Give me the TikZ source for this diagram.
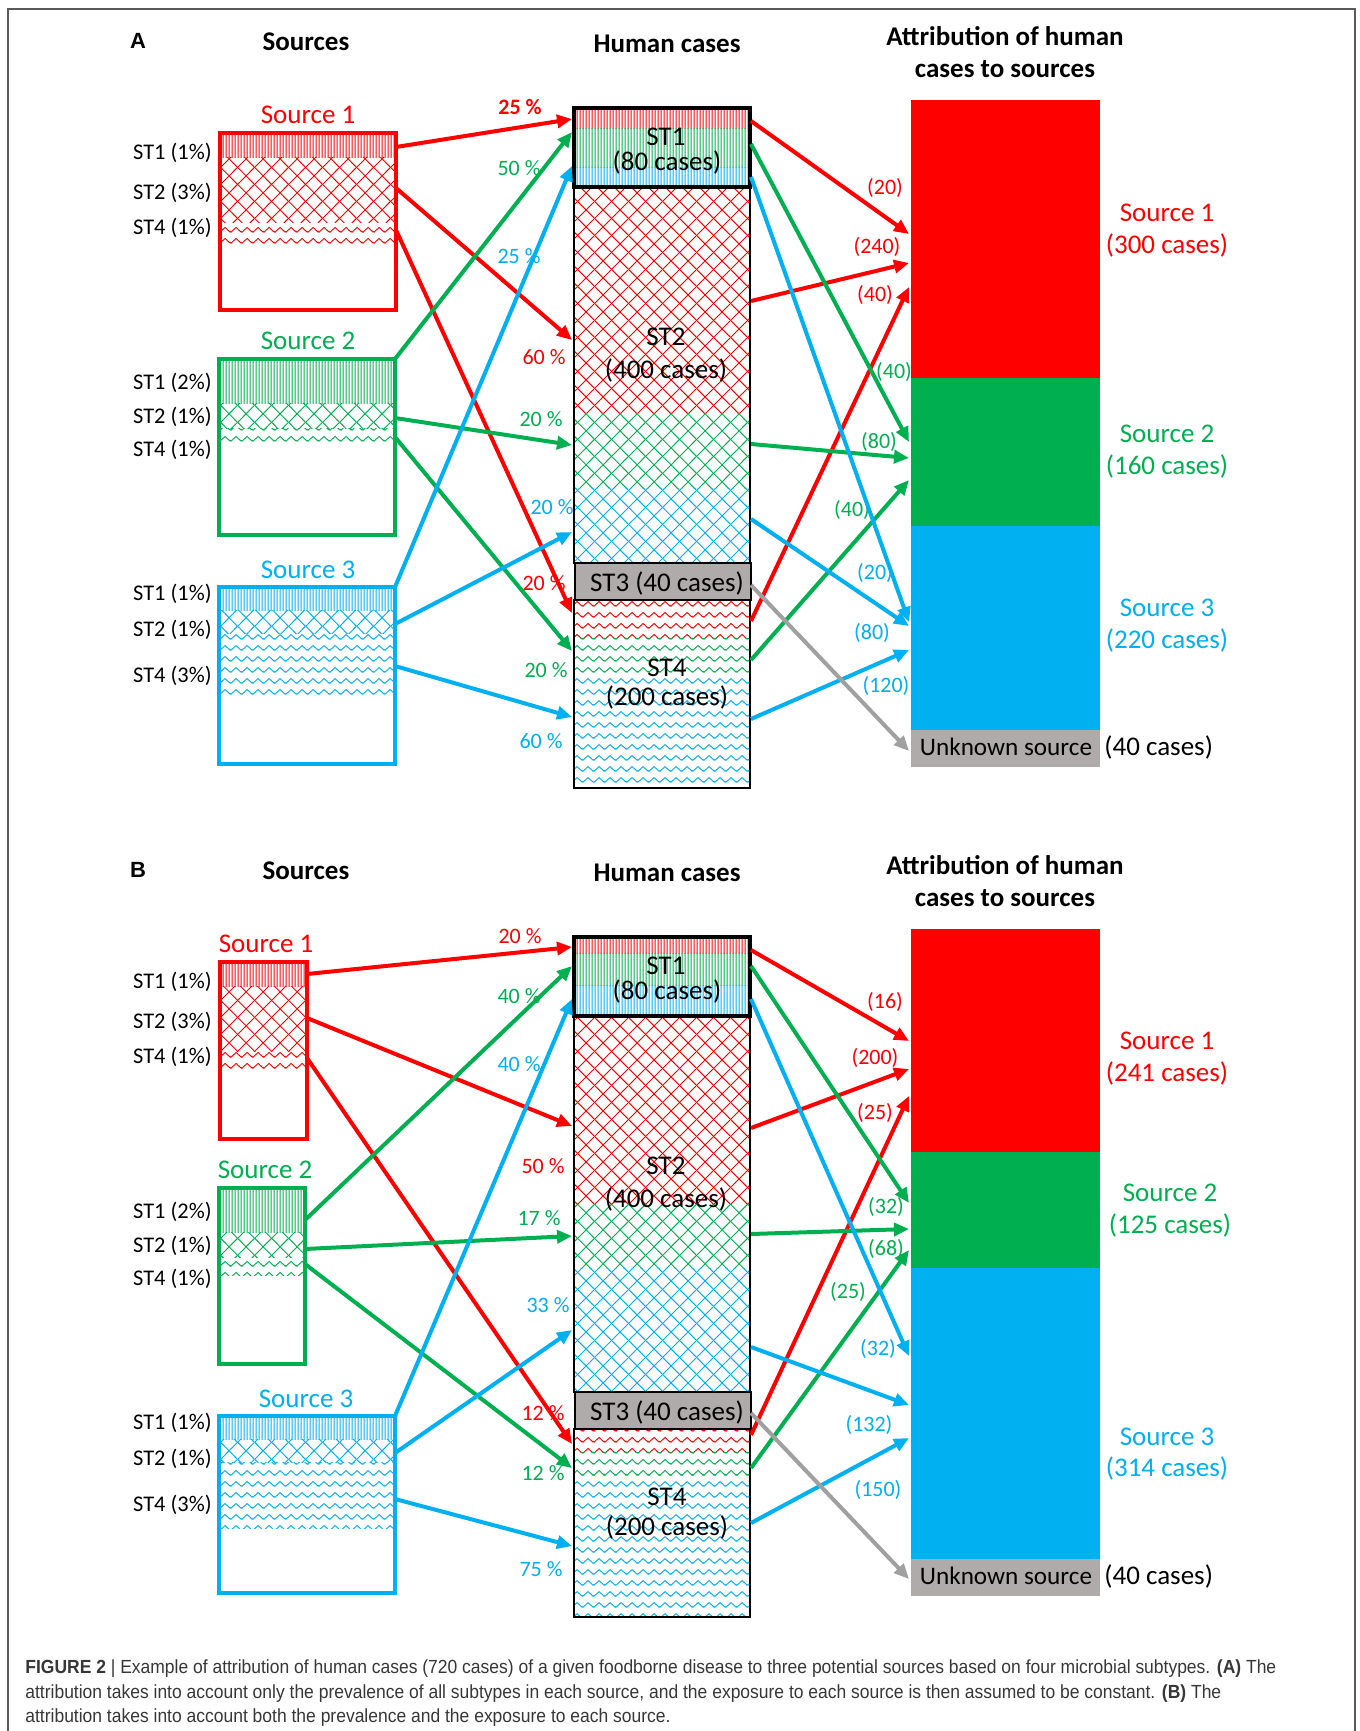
\documentclass[tikz,border=0pt]{standalone}
\usepackage{fontspec}
\setmainfont{Carlito}
\newfontfamily\capfont[FakeStretch=0.92]{Liberation Sans}
\newfontfamily\labfont{Liberation Sans}
\usetikzlibrary{arrows.meta,patterns.meta}
\definecolor{cr}{RGB}{255,0,0}
\definecolor{cg}{RGB}{0,176,80}
\definecolor{cb}{RGB}{0,176,240}
\definecolor{cgray}{RGB}{175,171,171}
\definecolor{cgarr}{RGB}{160,160,160}
\definecolor{capgray}{RGB}{55,55,55}
\definecolor{framegray}{RGB}{90,90,90}

\tikzdeclarepattern{
  name=ptvert,
  type=uncolored,
  bottom left={(0pt,0pt)},
  top right={(1.5pt,4pt)},
  tile size={(1.5pt,4pt)},
  code={\pgfsetlinewidth{0.6pt}\pgfpathmoveto{\pgfqpoint{0.75pt}{-1pt}}\pgfpathlineto{\pgfqpoint{0.75pt}{5pt}}\pgfusepath{stroke}}
}
\tikzdeclarepattern{
  name=ptcross,
  type=uncolored,
  bottom left={(0pt,0pt)},
  top right={(8.5pt,8.5pt)},
  tile size={(8.5pt,8.5pt)},
  code={\pgfsetlinewidth{0.5pt}%
    \pgfpathmoveto{\pgfqpoint{-1pt}{-1pt}}\pgfpathlineto{\pgfqpoint{9.5pt}{9.5pt}}%
    \pgfpathmoveto{\pgfqpoint{-1pt}{9.5pt}}\pgfpathlineto{\pgfqpoint{9.5pt}{-1pt}}%
    \pgfusepath{stroke}}
}
\tikzdeclarepattern{
  name=ptwave,
  type=uncolored,
  bottom left={(0pt,0pt)},
  top right={(5.5pt,5.5pt)},
  tile size={(5.5pt,5.5pt)},
  code={\pgfsetlinewidth{0.5pt}%
    \pgfpathmoveto{\pgfqpoint{-2.75pt}{4pt}}\pgfpathlineto{\pgfqpoint{0pt}{1.5pt}}%
    \pgfpathlineto{\pgfqpoint{2.75pt}{4pt}}\pgfpathlineto{\pgfqpoint{5.5pt}{1.5pt}}%
    \pgfpathlineto{\pgfqpoint{8.25pt}{4pt}}\pgfusepath{stroke}}
}

\tikzset{
  arr/.style={line width=2pt, -{Triangle[length=7.5pt,width=6.5pt]}},
  lbl/.style={font=\fontsize{11}{13}\selectfont, inner sep=0pt},
  stl/.style={font=\fontsize{11.2}{13}\selectfont, anchor=east, inner sep=0pt},
  big/.style={font=\fontsize{13.5}{16}\selectfont, inner sep=0pt},
  unk/.style={font=\fontsize{12.6}{15}\selectfont, inner sep=0pt},
  head/.style={font=\fontsize{13.5}{16}\selectfont\bfseries, inner sep=0pt, align=center},
  panlab/.style={font=\labfont\fontsize{11}{13}\selectfont\bfseries, inner sep=0pt},
  srcbox/.style={line width=2pt},
  hbord/.style={draw=black, line width=1pt},
  captxt/.style={font=\capfont\fontsize{9.5}{11}\selectfont, text=capgray, anchor=base west, inner sep=0pt},
}

\newcommand\conn[6]{%
  \coordinate (#1s) at (#3);
  \coordinate (#1e) at (#4);
  \draw[arr,#2] (#1s) -- (#1e);
  \node[lbl,text=#2] (#1l) at (#5) {#6};}

\newcommand\band[6]{\path[pattern=#1, pattern color=#2] (#3,#4) rectangle (#5,#6);}

\begin{document}
\begin{tikzpicture}[x=0.5pt,y=-0.5pt]
\useasboundingbox (0,0) rectangle (1360,1731);
\fill[white] (0,0) rectangle (1360,1731);
\draw[framegray, line width=0.8pt] (8,1735) -- (8,9) -- (1355,9) -- (1355,1735);

% ================= PANEL A =================
\node[panlab] (Alab) at (138,41) {A};
\node[head] (Asrc) at (306,42) {Sources};
\node[head] (Ahum) at (667,44) {Human cases};
\node[head] (Aatt) at (1005,52) {Attribution of human\\cases to sources};

% Source 1
\band{ptvert}{cr}{221}{135}{395}{157}
\band{ptcross}{cr}{221}{157}{395}{222}
\band{ptwave}{cr}{221}{222}{395}{244}
\draw[srcbox, cr] (220,133) rectangle (396,310);
\node[big, text=cr] (AS1n) at (308,115) {Source 1};
\node[stl] (AS1a) at (212,153) {ST1 (1\%)};
\node[stl] (AS1b) at (212,193) {ST2 (3\%)};
\node[stl] (AS1c) at (212,228) {ST4 (1\%)};
% Source 2
\band{ptvert}{cg}{220}{361}{394}{403}
\band{ptcross}{cg}{220}{403}{394}{428}
\band{ptwave}{cg}{220}{428}{394}{446}
\draw[srcbox, cg] (219,359) rectangle (395,535);
\node[big, text=cg] (AS2n) at (308,341) {Source 2};
\node[stl] (AS2a) at (212,383) {ST1 (2\%)};
\node[stl] (AS2b) at (212,417) {ST2 (1\%)};
\node[stl] (AS2c) at (212,450) {ST4 (1\%)};
% Source 3
\band{ptvert}{cb}{220}{589}{394}{610}
\band{ptcross}{cb}{220}{610}{394}{633}
\band{ptwave}{cb}{220}{633}{394}{699}
\draw[srcbox, cb] (219,587) rectangle (395,764);
\node[big, text=cb] (AS3n) at (308,570) {Source 3};
\node[stl] (AS3a) at (212,594) {ST1 (1\%)};
\node[stl] (AS3b) at (212,630) {ST2 (1\%)};
\node[stl] (AS3c) at (212,676) {ST4 (3\%)};

% Human cases column
\band{ptvert}{cr}{574}{108}{750}{128}
\band{ptvert}{cg}{574}{128}{750}{167}
\band{ptvert}{cb}{574}{167}{750}{187}
\band{ptcross}{cr}{574}{187}{750}{413}
\band{ptcross}{cg}{574}{413}{750}{488}
\band{ptcross}{cb}{574}{488}{750}{563}
\band{ptwave}{cr}{574}{600}{750}{638}
\band{ptwave}{cg}{574}{638}{750}{675}
\band{ptwave}{cb}{574}{675}{750}{788}
\draw[hbord] (574,187) rectangle (750,563);
\draw[hbord] (574,600) rectangle (750,788);
\draw[hbord, fill=cgray] (575,563) rectangle (751,600);
\draw[hbord, line width=1.6pt] (574,108) rectangle (750,187);
\node[big] (AH1a) at (666,137) {ST1};
\node[big] (AH1b) at (667,162) {(80 cases)};
\node[big] (AH2a) at (666,337) {ST2};
\node[big] (AH2b) at (666,370) {(400 cases)};
\node[big] (AH3) at (667,583) {ST3 (40 cases)};
\node[big] (AH4a) at (667,668) {ST4};
\node[big] (AH4b) at (667,697) {(200 cases)};

% Attribution column
\fill[cr] (911,100) rectangle (1100,378);
\fill[cg] (911,378) rectangle (1100,526);
\fill[cb] (911,526) rectangle (1100,730);
\fill[cgray] (911,730) rectangle (1100,767);
\node[big, text=cr] (AT1a) at (1167,213) {Source 1};
\node[big, text=cr] (AT1b) at (1167,245) {(300 cases)};
\node[big, text=cg] (AT2a) at (1167,434) {Source 2};
\node[big, text=cg] (AT2b) at (1167,466) {(160 cases)};
\node[big, text=cb] (AT3a) at (1167,608) {Source 3};
\node[big, text=cb] (AT3b) at (1167,640) {(220 cases)};
\node[unk] (AT4a) at (1006,747) {Unknown source};
\node[big, anchor=west] (AT4b) at (1104,747) {(40 cases)};

% Arrows sources -> human
\conn{Ar1}{cr}{396,147}{572,119}{520,107}{\textbf{25 \%}}
\conn{Ar2}{cr}{396,188}{572,340}{544,357}{60 \%}
\conn{Ar3}{cr}{396,230}{572,613}{544,583}{20 \%}
\conn{Ag1}{cg}{395,359}{572,132}{519,168}{50 \%}
\conn{Ag2}{cg}{395,418}{572,445}{541,419}{20 \%}
\conn{Ag3}{cg}{395,437}{572,651}{546,670}{20 \%}
\conn{Ab1}{cb}{395,587}{572,166}{519,256}{25 \%}
\conn{Ab2}{cb}{395,624}{572,532}{552,507}{20 \%}
\conn{Ab3}{cb}{395,666}{572,717}{541,741}{60 \%}
% Arrows human -> attribution
\conn{AR1}{cr}{751,121}{909,234}{885,188}{(20)}
\conn{AR2}{cr}{751,301}{909,263}{877,247}{(240)}
\conn{AR3}{cr}{751,621}{909,287}{875,295}{(40)}
\conn{AG1}{cg}{751,144}{909,442}{894,372}{(40)}
\conn{AG2}{cg}{751,444}{909,458}{879,442}{(80)}
\conn{AG3}{cg}{751,660}{909,480}{852,510}{(40)}
\conn{AB1}{cb}{751,177}{909,622}{875,573}{(20)}
\conn{AB2}{cb}{751,519}{909,626}{872,633}{(80)}
\conn{AB3}{cb}{751,719}{909,650}{886,686}{(120)}
\coordinate (AGys) at (751,585);
\coordinate (AGye) at (909,751);
\draw[arr, cgarr] (AGys) -- (AGye);

% ================= PANEL B =================
\node[panlab] (Blab) at (138,870) {B};
\node[head] (Bsrc) at (306,871) {Sources};
\node[head] (Bhum) at (667,873) {Human cases};
\node[head] (Batt) at (1005,881) {Attribution of human\\cases to sources};

% Source 1
\band{ptvert}{cr}{221}{964}{306}{986}
\band{ptcross}{cr}{221}{986}{306}{1051}
\band{ptwave}{cr}{221}{1051}{306}{1073}
\draw[srcbox, cr] (220,962) rectangle (307,1139);
\node[big, text=cr] (BS1n) at (266,944) {Source 1};
\node[stl] (BS1a) at (212,982) {ST1 (1\%)};
\node[stl] (BS1b) at (212,1022) {ST2 (3\%)};
\node[stl] (BS1c) at (212,1057) {ST4 (1\%)};
% Source 2
\band{ptvert}{cg}{220}{1190}{304}{1232}
\band{ptcross}{cg}{220}{1232}{304}{1257}
\band{ptwave}{cg}{220}{1257}{304}{1275}
\draw[srcbox, cg] (219,1188) rectangle (305,1364);
\node[big, text=cg] (BS2n) at (265,1170) {Source 2};
\node[stl] (BS2a) at (212,1212) {ST1 (2\%)};
\node[stl] (BS2b) at (212,1246) {ST2 (1\%)};
\node[stl] (BS2c) at (212,1279) {ST4 (1\%)};
% Source 3
\band{ptvert}{cb}{220}{1418}{394}{1439}
\band{ptcross}{cb}{220}{1439}{394}{1462}
\band{ptwave}{cb}{220}{1462}{394}{1528}
\draw[srcbox, cb] (219,1416) rectangle (395,1593);
\node[big, text=cb] (BS3n) at (306,1399) {Source 3};
\node[stl] (BS3a) at (212,1423) {ST1 (1\%)};
\node[stl] (BS3b) at (212,1459) {ST2 (1\%)};
\node[stl] (BS3c) at (212,1505) {ST4 (3\%)};

% Human cases column
\band{ptvert}{cr}{574}{937}{750}{953}
\band{ptvert}{cg}{574}{953}{750}{985}
\band{ptvert}{cb}{574}{985}{750}{1016}
\band{ptcross}{cr}{574}{1016}{750}{1204}
\band{ptcross}{cg}{574}{1204}{750}{1268}
\band{ptcross}{cb}{574}{1268}{750}{1392}
\band{ptwave}{cr}{574}{1429}{750}{1452}
\band{ptwave}{cg}{574}{1452}{750}{1475}
\band{ptwave}{cb}{574}{1475}{750}{1617}
\draw[hbord] (574,1016) rectangle (750,1392);
\draw[hbord] (574,1429) rectangle (750,1617);
\draw[hbord, fill=cgray] (575,1392) rectangle (751,1429);
\draw[hbord, line width=1.6pt] (574,937) rectangle (750,1016);
\node[big] (BH1a) at (666,966) {ST1};
\node[big] (BH1b) at (667,991) {(80 cases)};
\node[big] (BH2a) at (666,1166) {ST2};
\node[big] (BH2b) at (666,1199) {(400 cases)};
\node[big] (BH3) at (667,1412) {ST3 (40 cases)};
\node[big] (BH4a) at (667,1497) {ST4};
\node[big] (BH4b) at (667,1527) {(200 cases)};

% Attribution column
\fill[cr] (911,929) rectangle (1100,1152);
\fill[cg] (911,1152) rectangle (1100,1268);
\fill[cb] (911,1268) rectangle (1100,1559);
\fill[cgray] (911,1559) rectangle (1100,1596);
\node[big, text=cr] (BT1a) at (1167,1041) {Source 1};
\node[big, text=cr] (BT1b) at (1167,1073) {(241 cases)};
\node[big, text=cg] (BT2a) at (1170,1193) {Source 2};
\node[big, text=cg] (BT2b) at (1170,1225) {(125 cases)};
\node[big, text=cb] (BT3a) at (1167,1437) {Source 3};
\node[big, text=cb] (BT3b) at (1167,1468) {(314 cases)};
\node[unk] (BT4a) at (1006,1576) {Unknown source};
\node[big, anchor=west] (BT4b) at (1104,1576) {(40 cases)};

% Arrows sources -> human
\conn{Br1}{cr}{307,974}{572,947}{520,936}{20 \%}
\conn{Br2}{cr}{307,1018}{572,1126}{543,1166}{50 \%}
\conn{Br3}{cr}{307,1058}{572,1444}{543,1413}{12 \%}
\conn{Bg1}{cg}{305,1220}{572,966}{519,996}{40 \%}
\conn{Bg2}{cg}{305,1249}{572,1236}{539,1218}{17 \%}
\conn{Bg3}{cg}{305,1264}{572,1468}{543,1473}{12 \%}
\conn{Bb1}{cb}{395,1416}{572,999}{519,1064}{40 \%}
\conn{Bb2}{cb}{395,1453}{572,1330}{548,1305}{33 \%}
\conn{Bb3}{cb}{395,1499}{572,1546}{541,1569}{75 \%}
% Arrows human -> attribution
\conn{BR1}{cr}{751,950}{909,1041}{885,1002}{(16)}
\conn{BR2}{cr}{751,1128}{909,1069}{875,1058}{(200)}
\conn{BR3}{cr}{751,1435}{909,1096}{875,1113}{(25)}
\conn{BG1}{cg}{751,966}{909,1203}{886,1207}{(32)}
\conn{BG2}{cg}{751,1234}{909,1229}{886,1249}{(68)}
\conn{BG3}{cg}{751,1468}{909,1250}{848,1292}{(25)}
\conn{BB1}{cb}{751,999}{909,1356}{878,1349}{(32)}
\conn{BB2}{cb}{751,1347}{909,1405}{869,1425}{(132)}
\conn{BB3}{cb}{751,1523}{909,1438}{878,1490}{(150)}
\coordinate (BGys) at (751,1413);
\coordinate (BGye) at (909,1579);
\draw[arr, cgarr] (BGys) -- (BGye);

% ================= CAPTION =================
\node[captxt] (cap1) at (25,1673) {\textbf{FIGURE 2} {\color{black!80}|} Example of attribution of human cases (720 cases) of a given foodborne disease to three potential sources based on four microbial subtypes. \textbf{(A)} The};
\node[captxt] (cap2) at (25,1698) {attribution takes into account only the prevalence of all subtypes in each source, and the exposure to each source is then assumed to be constant. \textbf{(B)} The};
\node[captxt] (cap3) at (25,1722) {attribution takes into account both the prevalence and the exposure to each source.};
\end{tikzpicture}
\end{document}
